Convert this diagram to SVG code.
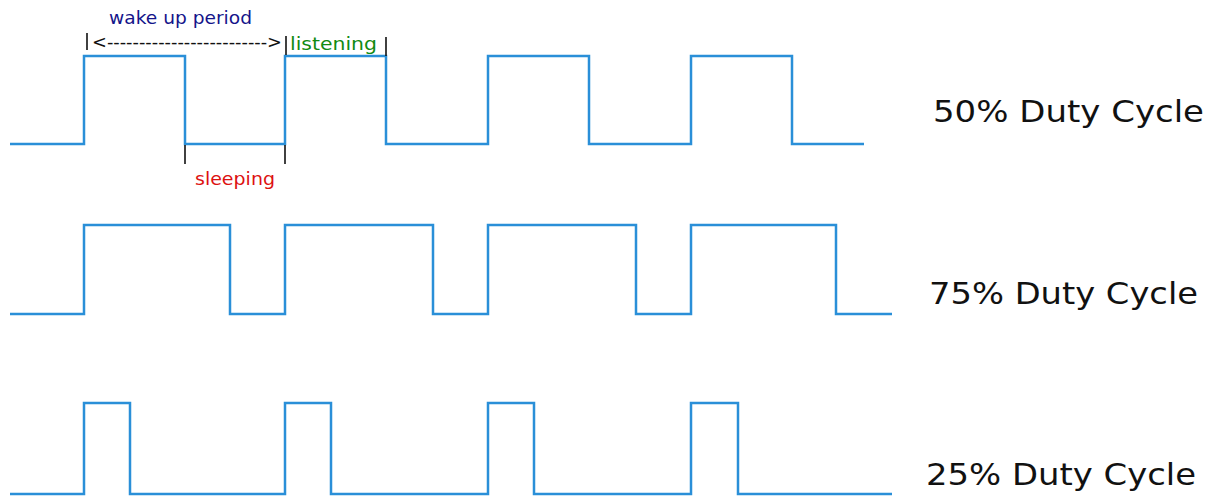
<svg xmlns="http://www.w3.org/2000/svg" width="1213" height="496" viewBox="0 0 1213 496">
<style>
.wave{fill:none;stroke:#2a8fd8;stroke-width:2.5;stroke-linejoin:miter}
.tick{stroke:#111;stroke-width:1.6}
.lbl{font-family:"DejaVu Sans",sans-serif;font-size:18px}
.big{font-family:"DejaVu Sans",sans-serif;font-size:30px;fill:#111}
</style>
<rect width="1213" height="496" fill="#fff"/>
<g id="connectors">
<path id="wave50" class="wave" d="M10,144 H84 V56 H185 V144 H285 V56 H386 V144 H488 V56 H589 V144 H691 V56 H792 V144 H864"/>
<path id="wave75" class="wave" d="M10,314 H84 V225 H230 V314 H285 V225 H433 V314 H488 V225 H636 V314 H691 V225 H836 V314 H892"/>
<path id="wave25" class="wave" d="M10,494 H84 V403 H130 V494 H285 V403 H331 V494 H488 V403 H534 V494 H691 V403 H738 V494 H892"/>
<line class="tick" x1="87" y1="33" x2="87" y2="50"/>
<line class="tick" x1="286" y1="36" x2="286" y2="55"/>
<line class="tick" x1="386" y1="37" x2="386" y2="56"/>
<line class="tick" x1="185" y1="145" x2="185" y2="164"/>
<line class="tick" x1="285" y1="145" x2="285" y2="164"/>
<text class="lbl" x="92" y="48" fill="#111" textLength="190" lengthAdjust="spacingAndGlyphs">&lt;-------------------------&gt;</text>
</g>
<g id="label-wake"><text class="lbl" x="109" y="24" fill="#14148a" textLength="143" lengthAdjust="spacingAndGlyphs">wake up period</text></g>
<g id="label-listening"><text class="lbl" x="290" y="50" fill="#118a11" textLength="87" lengthAdjust="spacingAndGlyphs">listening</text></g>
<g id="label-sleeping"><text class="lbl" x="195" y="185" fill="#dd1111" textLength="80" lengthAdjust="spacingAndGlyphs">sleeping</text></g>
<g id="label-50"><text class="big" x="933" y="122" textLength="271" lengthAdjust="spacingAndGlyphs">50% Duty Cycle</text></g>
<g id="label-75"><text class="big" x="929" y="304" textLength="269" lengthAdjust="spacingAndGlyphs">75% Duty Cycle</text></g>
<g id="label-25"><text class="big" x="926" y="485" textLength="270" lengthAdjust="spacingAndGlyphs">25% Duty Cycle</text></g>
</svg>
